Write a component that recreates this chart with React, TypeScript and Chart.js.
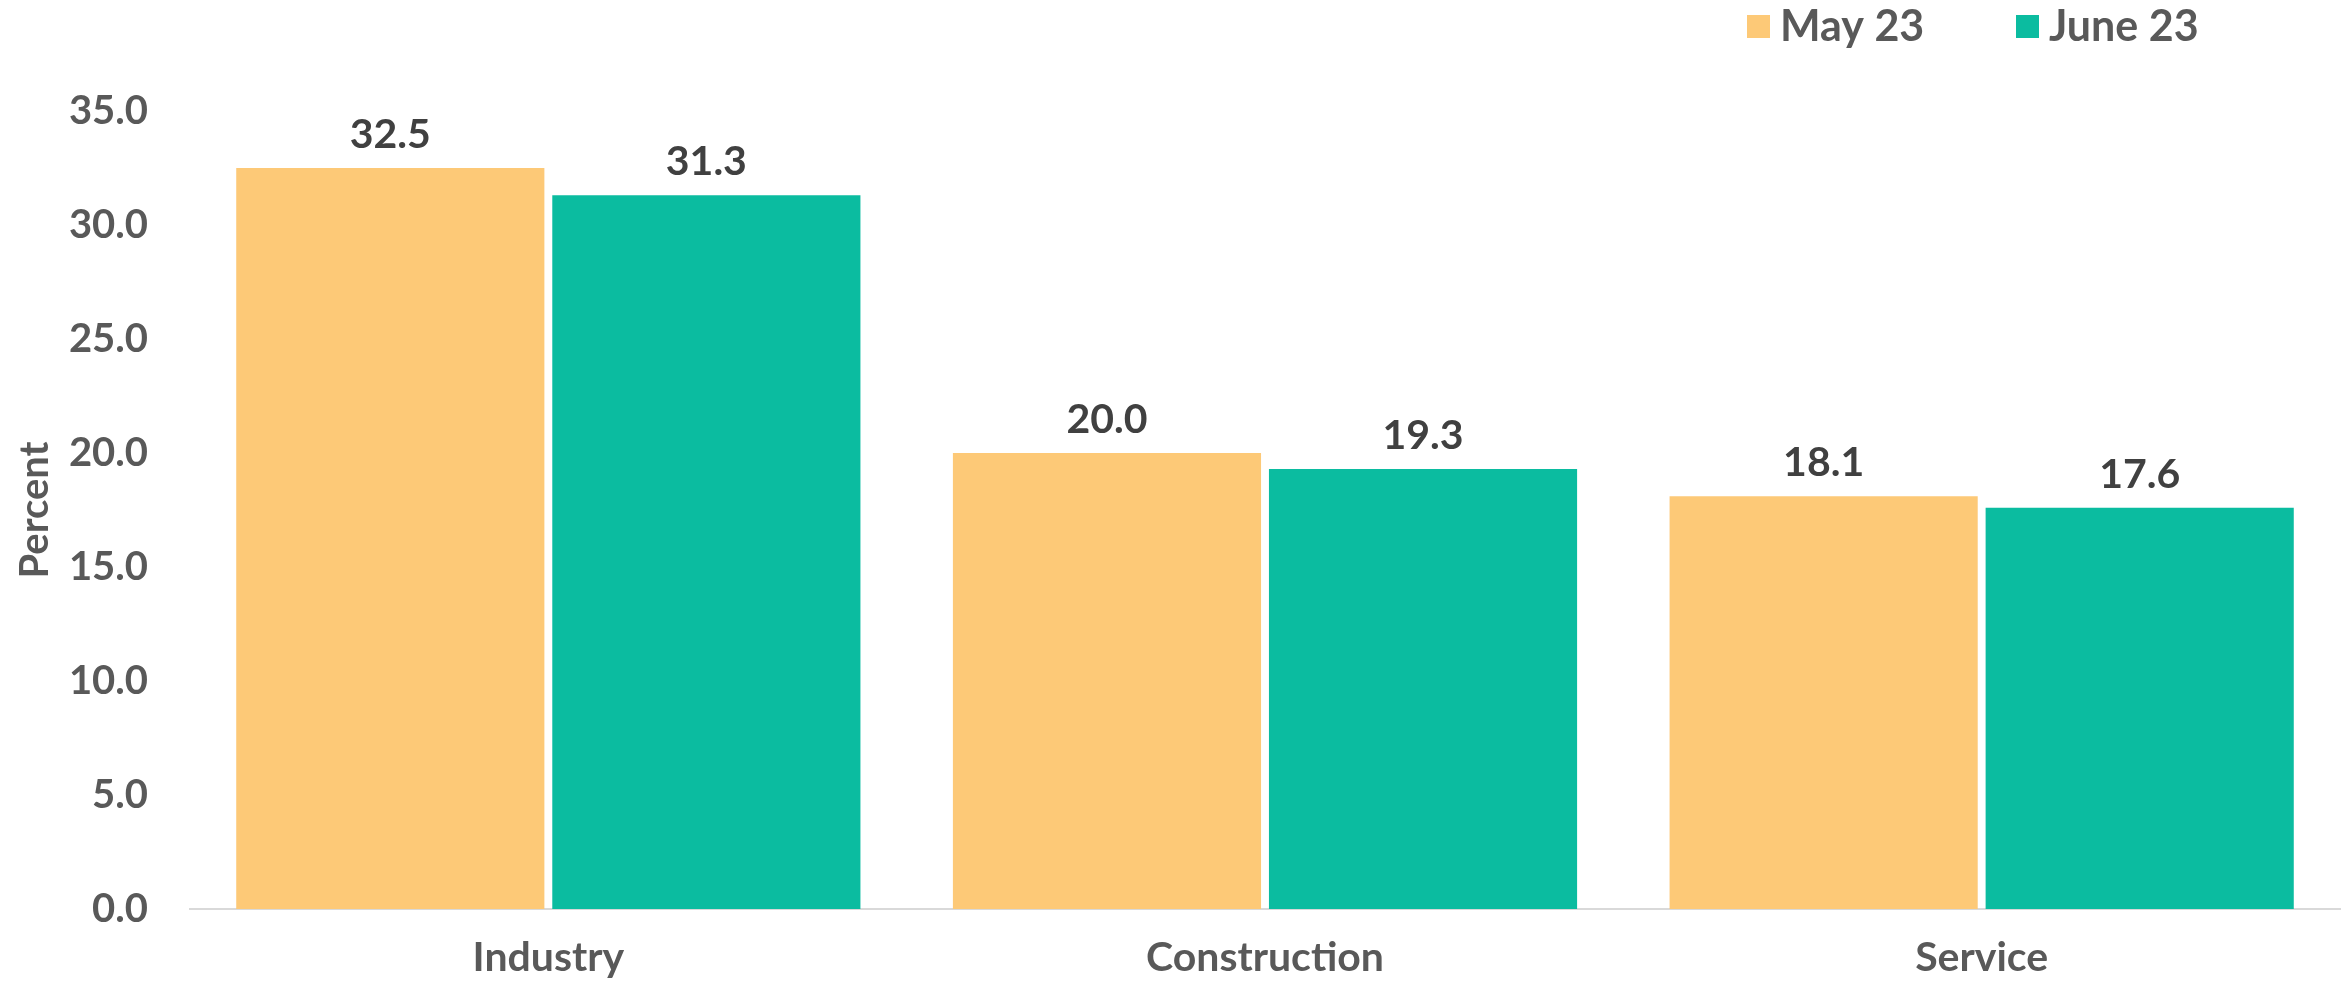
import React, { useEffect, useRef } from "react";
import { Chart, registerables } from "chart.js";

Chart.register(...registerables);

const categories = ["Industry", "Construction", "Service"];
const seriesNames = ["May 23", "June 23"];
const may23 = [32.5, 20.0, 18.1];
const june23 = [31.3, 19.3, 17.6];
const seriesColors = ["#FDC977", "#0BBCA0"];
const yTicks = [0, 5, 10, 15, 20, 25, 30, 35];

const FONT = "Lato, 'Noto Sans', sans-serif";

const dataLabelPlugin = {
  id: "dataLabels",
  afterDatasetsDraw(chart: any) {
    const ctx = chart.ctx;
    ctx.save();
    ctx.font = `bold 41px ${FONT}`;
    ctx.fillStyle = "#404040";
    ctx.textAlign = "center";
    ctx.textBaseline = "alphabetic";
    chart.data.datasets.forEach((ds: any, di: number) => {
      const meta = chart.getDatasetMeta(di);
      meta.data.forEach((bar: any, i: number) => {
        ctx.fillText(Number(ds.data[i]).toFixed(1), bar.x, bar.y - 20);
      });
    });
    ctx.restore();
  },
};

const legendPlugin = {
  id: "customLegend",
  afterDraw(chart: any) {
    const ctx = chart.ctx;
    const boxX = [1747, 2016];
    const box = 23;
    const boxY = 15;
    ctx.save();
    ctx.font = `bold 43px ${FONT}`;
    ctx.textBaseline = "middle";
    ctx.textAlign = "left";
    chart.data.datasets.forEach((ds: any, i: number) => {
      ctx.fillStyle = ds.backgroundColor;
      ctx.fillRect(boxX[i], boxY, box, box);
      ctx.fillStyle = "#595959";
      ctx.fillText(ds.label, boxX[i] + box + 10, boxY + box / 2 + 1);
    });
    ctx.restore();
  },
};

export default function App() {
  const ref = useRef<HTMLCanvasElement | null>(null);
  useEffect(() => {
    if (!ref.current) return;
    const chart = new Chart(ref.current, {
      type: "bar",
      data: {
        labels: categories,
        datasets: [
          { label: seriesNames[0], data: may23, backgroundColor: seriesColors[0], categoryPercentage: 0.882, barPercentage: 0.975 },
          { label: seriesNames[1], data: june23, backgroundColor: seriesColors[1], categoryPercentage: 0.882, barPercentage: 0.975 },
        ],
      },
      options: {
        responsive: false,
        animation: false,
        layout: { padding: { top: 111, right: 9, bottom: 0, left: 0 } },
        plugins: {
          legend: { display: false },
          tooltip: { enabled: false },
        },
        scales: {
          x: {
            afterFit: (s: any) => {
              s.height = 74;
            },
            grid: { display: false, drawTicks: false },
            border: { display: true, color: "#D9D9D9", width: 2 },
            ticks: {
              color: "#595959",
              font: { family: FONT, size: 41, weight: "bold", lineHeight: 1.2 },
              padding: 24,
            },
          },
          y: {
            min: 0,
            max: 35,
            afterFit: (s: any) => {
              s.width = 190;
            },
            afterBuildTicks: (s: any) => {
              s.ticks = yTicks.map((v) => ({ value: v }));
            },
            grid: { display: false, drawTicks: false },
            border: { display: false },
            ticks: {
              color: "#595959",
              font: { family: FONT, size: 40, weight: "bold" },
              padding: 42,
              callback: (v: any) => Number(v).toFixed(1),
            },
            title: {
              display: true,
              text: "Percent",
              color: "#595959",
              font: { family: FONT, size: 40, weight: "bold", lineHeight: 1.2 },
              padding: { top: 11, bottom: 0 },
            },
          },
        },
      },
      plugins: [dataLabelPlugin, legendPlugin],
    });
    return () => chart.destroy();
  }, []);
  return (
    <div style={{ position: "fixed", left: 0, top: 0, width: 2349, height: 983, background: "#fff" }}>
      <canvas ref={ref} width={2349} height={983} style={{ width: 2349, height: 983 }} />
    </div>
  );
}
